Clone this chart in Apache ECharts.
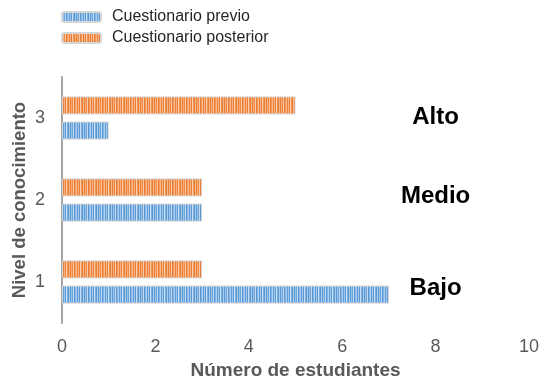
<!DOCTYPE html>
<html><head><meta charset="utf-8">
<script src="https://cdn.jsdelivr.net/npm/echarts@6/dist/echarts.min.js"></script>
<style>html,body{margin:0;padding:0;background:#fff}#c{width:543px;height:380px}</style>
</head><body><div id="c"></div>
<script>
const categories = ['1', '2', '3'];
const previo = [7, 3, 1];
const posterior = [3, 3, 5];
const levelNames = ['Bajo', 'Medio', 'Alto'];
const seriesNames = ['Cuestionario previo', 'Cuestionario posterior'];

function stripes(cols) {
  const c = document.createElement('canvas');
  c.width = cols.length; c.height = 4;
  const g = c.getContext('2d');
  cols.forEach((col, i) => { g.fillStyle = col; g.fillRect(i, 0, 1, 4); });
  return c;
}
const bluePat = stripes(['#5b9bd5','#9cc2e8','#6aa5dc','#c3dbf2','#5898d6','#86b5e4','#b0cfee','#629fd8','#a2c6ea','#5a9ad6','#cfe2f5','#7aaee1','#5b9bd5','#acccec']);
const orangePat = stripes(['#ed7d31','#f4ad7c','#ef8a44','#f8caa8','#ec7a2e','#f29c61','#f6bb93','#ee8239','#f4b185','#ed7e33','#f9d3b6','#f1944f','#ed7d31','#f5b88d']);

const chart = echarts.init(document.getElementById('c'));
const font = 'Liberation Sans, Arial, sans-serif';
chart.setOption({
  animation: false,
  textStyle: { fontFamily: font },
  legend: {
    orient: 'vertical', left: 56, top: 4, itemWidth: 39, itemHeight: 10, itemGap: 5,
    textStyle: { fontSize: 16, color: '#262626', fontFamily: font, padding: [0, 0, 0, 6] },
    data: seriesNames
  },
  grid: { left: 62, right: 14, top: 77, bottom: 57, outerBoundsMode: 'none', containLabel: false },
  xAxis: {
    type: 'value', min: 0, max: 10, interval: 2,
    axisLine: { show: false }, axisTick: { show: false }, splitLine: { show: false },
    axisLabel: { fontSize: 18, color: '#595959', margin: 15, fontFamily: font },
    name: 'Número de estudiantes', nameLocation: 'middle', nameGap: 38, nameMoveOverlap: false,
    nameTextStyle: { fontSize: 19, fontWeight: 'bold', color: '#595959', fontFamily: font }
  },
  yAxis: {
    type: 'category', data: categories,
    axisLine: { show: true, lineStyle: { color: '#a6a6a6', width: 2 } },
    axisTick: { show: false },
    axisLabel: { fontSize: 18, color: '#595959', margin: 17, fontFamily: font },
    name: 'Nivel de conocimiento', nameLocation: 'middle', nameGap: 33, nameRotate: 90, nameMoveOverlap: false,
    nameTextStyle: { fontSize: 18.5, fontWeight: 'bold', color: '#595959', fontFamily: font }
  },
  series: [
    { name: seriesNames[1], type: 'bar', data: posterior, barWidth: 18, barGap: '40%',
      itemStyle: { color: { image: orangePat, repeat: 'repeat' }, borderColor: '#d6d6d6', borderWidth: 1 } },
    { name: seriesNames[0], type: 'bar', data: previo, barWidth: 18,
      itemStyle: { color: { image: bluePat, repeat: 'repeat' }, borderColor: '#d6d6d6', borderWidth: 1 } }
  ]
});
const yOff = [6, -4, -1];
chart.setOption({
  graphic: levelNames.map((t, i) => {
    const p = chart.convertToPixel({ gridIndex: 0 }, [8, i]);
    return { type: 'text', x: p[0], y: p[1] + yOff[i],
      style: { text: t, fontSize: 24, fontWeight: 'bold', fill: '#000', align: 'center', verticalAlign: 'middle', fontFamily: font } };
  })
});
</script></body></html>
